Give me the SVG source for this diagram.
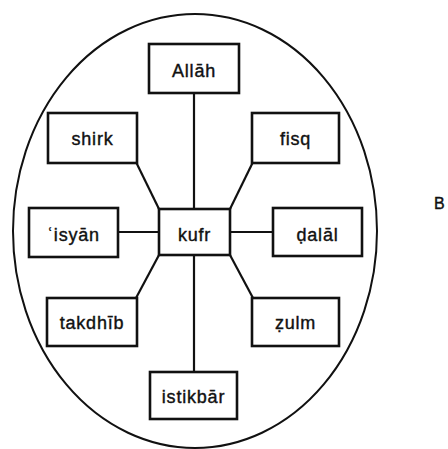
<svg xmlns="http://www.w3.org/2000/svg" width="448" height="449" viewBox="0 0 448 449">
<style>
rect.box{fill:#fff;stroke:#111;stroke-width:2.6}
text{font-family:"Liberation Sans","DejaVu Sans",sans-serif;font-size:18px;fill:#111;stroke:#111;stroke-width:0.4;text-anchor:middle;letter-spacing:0.8px}
text.side{font-size:16px;letter-spacing:0;text-anchor:start}
.conn line{stroke:#111;stroke-width:2.2}
</style>
<rect width="448" height="449" fill="#fff"/>
<ellipse cx="195" cy="231" rx="182" ry="217" fill="none" stroke="#111" stroke-width="2"/>
<g class="conn">
<line x1="194" y1="93" x2="194" y2="209"/>
<line x1="194" y1="255" x2="194" y2="372"/>
<line x1="118" y1="232" x2="159" y2="232"/>
<line x1="230" y1="232" x2="273" y2="232"/>
<line x1="136" y1="162" x2="159" y2="209"/>
<line x1="253" y1="162" x2="230" y2="209"/>
<line x1="159" y1="255" x2="136" y2="298"/>
<line x1="230" y1="255" x2="253" y2="298"/>
</g>
<g id="allah"><rect class="box" x="149" y="44" width="90" height="49"/><text x="194" y="77">Allāh</text></g>
<g id="shirk"><rect class="box" x="48" y="113" width="89" height="50"/><text x="92.5" y="145">shirk</text></g>
<g id="fisq"><rect class="box" x="252" y="113" width="87" height="50"/><text x="295.5" y="145">fisq</text></g>
<g id="isyan"><rect class="box" x="29" y="208" width="89" height="49"/><text x="73.5" y="241">ʿisyān</text></g>
<g id="kufr"><rect class="box" x="159" y="209" width="71" height="46"/><text x="194.5" y="241">kufr</text></g>
<g id="dalal"><rect class="box" x="273" y="208" width="89" height="48"/><text x="317.5" y="241">ḍalāl</text></g>
<g id="takdhib"><rect class="box" x="47" y="298" width="90" height="48"/><text x="92" y="329">takdhīb</text></g>
<g id="zulm"><rect class="box" x="252" y="298" width="87" height="48"/><text x="295.5" y="329">ẓulm</text></g>
<g id="istikbar"><rect class="box" x="150" y="372" width="87" height="47"/><text x="193.5" y="403">istikbār</text></g>
<text class="side" x="434" y="209">B</text>
</svg>
